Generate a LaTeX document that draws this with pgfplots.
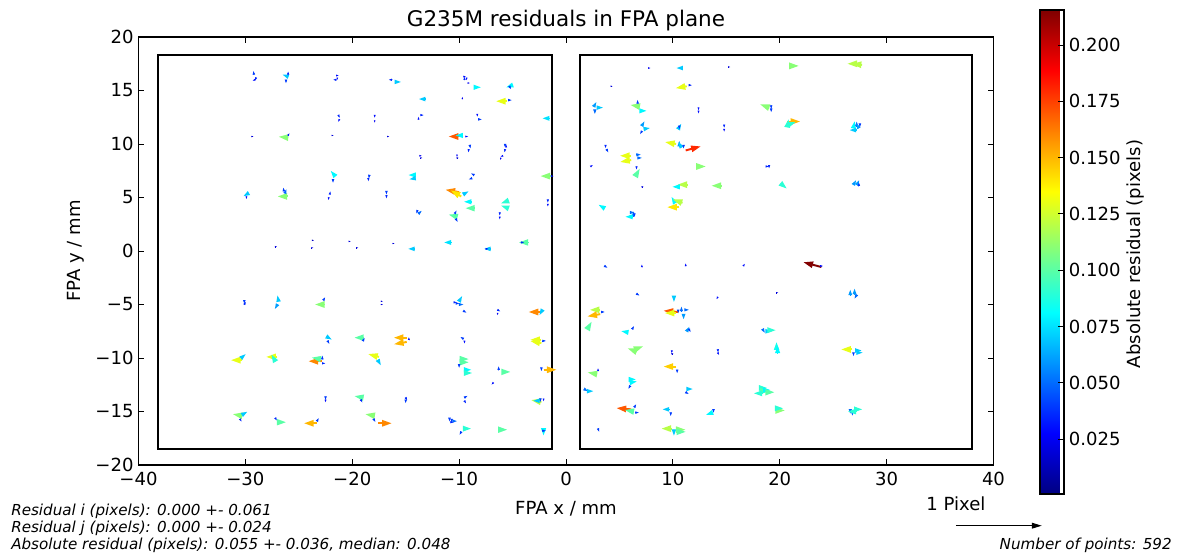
\documentclass[border=0pt]{standalone}
\usepackage{fontspec}
\setmainfont{DejaVu Sans}[ItalicFont={DejaVu Sans Oblique}]
\usepackage{pgfplots}
\pgfplotsset{compat=1.18}
\usepackage{pgfplotstable}
\usetikzlibrary{arrows.meta}

\pgfplotstableread{
x y m a
-29.2 16.5 0.04 100
-29.0 16.2 0.035 250
-29.1 16.0 0.03 200
-26.0 16.3 0.07 160
-26.2 16.0 0.04 270
-26.0 16.5 0.035 90
-21.5 16.4 0.03 0
-21.5 16.0 0.035 180
-21.4 16.2 0.025 270
-16.3 16.0 0.035 180
-16.0 15.8 0.07 0
-9.6 16.3 0.03 0
-9.5 16.0 0.035 90
-9.3 16.2 0.03 270
-9.2 15.7 0.025 0
-8.6 15.3 0.08 0
-5.0 15.5 0.08 200
-5.3 15.4 0.04 300
-13.2 14.2 0.07 180
-9.7 14.2 0.025 90
-5.5 14.0 0.13 180
-5.4 14.1 0.04 0
-21.3 12.7 0.035 300
-21.2 12.3 0.03 240
-17.9 12.7 0.03 270
-17.9 12.2 0.025 270
-13.6 12.7 0.035 0
-13.8 12.3 0.03 90
-8.3 12.8 0.03 270
-8.2 12.3 0.04 0
-1.6 12.4 0.075 180
-29.4 10.7 0.02 0
-26.0 10.6 0.11 175
-26.0 10.8 0.03 60
-21.9 10.8 0.02 0
-16.7 10.7 0.02 0
-9.6 10.7 0.17 180
-9.7 10.8 0.08 180
-9.4 10.7 0.03 0
-9.0 9.9 0.04 280
-9.1 9.5 0.035 260
-5.7 10.0 0.04 270
-5.7 9.5 0.035 260
-5.6 9.7 0.03 90
-13.7 8.9 0.025 0
-13.6 8.7 0.02 0
-10.2 9.0 0.025 270
-10.2 8.7 0.02 0
-5.9 8.9 0.03 200
-6.1 8.7 0.025 250
-21.6 7.0 0.08 130
-21.8 6.7 0.04 270
-18.4 7.1 0.04 260
-18.5 6.8 0.035 280
-14.1 7.1 0.08 180
-14.1 6.8 0.07 190
-8.6 7.1 0.04 150
-8.8 6.8 0.04 200
-1.5 7.0 0.11 180
-1.4 7.0 0.03 0
-29.7 5.4 0.07 210
-29.9 5.1 0.03 270
-26.1 5.1 0.11 180
-26.3 5.4 0.05 70
-26.4 5.6 0.04 100
-22.1 5.3 0.035 80
-22.2 5.0 0.03 260
-16.8 5.6 0.04 270
-16.8 5.2 0.035 270
-10.0 5.5 0.16 170
-9.8 5.1 0.14 150
-9.6 5.3 0.07 30
-8.9 4.6 0.08 180
-8.6 4.0 0.1 180
-5.4 4.7 0.09 200
-5.4 4.0 0.09 160
-1.7 4.8 0.035 270
-1.7 4.4 0.03 270
-13.9 3.8 0.04 250
-13.8 3.5 0.05 40
-10.2 3.2 0.1 165
-10.4 3.5 0.04 60
-10.3 3.0 0.04 300
-6.2 3.6 0.035 270
-6.2 3.2 0.03 270
-27.2 0.4 0.02 0
-23.7 1.0 0.015 0
-23.8 0.3 0.02 0
-20.3 0.9 0.02 0
-19.6 0.3 0.02 0
-16.2 0.7 0.02 0
-14.2 0.2 0.07 180
-10.8 0.8 0.075 180
-7.1 0.2 0.07 180
-7.5 0.2 0.03 0
-3.6 0.8 0.1 180
-4.2 0.8 0.035 0
-30.1 -4.6 0.04 270
-30.1 -5.0 0.035 60
-26.9 -4.7 0.07 100
-27.0 -5.0 0.06 240
-22.6 -5.0 0.11 180
-22.7 -4.6 0.04 60
-17.3 -4.7 0.02 0
-17.3 -5.0 0.02 0
-10.5 -4.8 0.035 0
-10.3 -4.9 0.04 0
-10.0 -4.7 0.07 60
-10.0 -5.0 0.05 0
-9.6 -5.6 0.04 330
-6.4 -5.5 0.035 330
-6.4 -5.8 0.025 270
-2.2 -5.7 0.16 180
-2.2 -5.5 0.07 240
-22.4 -8.0 0.07 330
-22.3 -8.4 0.04 300
-19.0 -8.1 0.1 180
-19.0 -8.4 0.04 60
-14.9 -8.1 0.15 180
-14.9 -8.5 0.15 190
-14.7 -8.3 0.03 90
-9.6 -8.2 0.04 150
-9.5 -8.4 0.03 270
-2.3 -8.3 0.13 180
-2.3 -8.6 0.13 170
-2.2 -8.4 0.04 0
-30.3 -10.2 0.13 180
-30.4 -10.0 0.07 40
-27.0 -9.9 0.13 180
-27.2 -10.3 0.09 120
-22.8 -10.3 0.16 180
-23.0 -10.1 0.1 170
-22.8 -10.1 0.04 90
-22.8 -10.5 0.035 0
-17.5 -9.9 0.13 165
-17.6 -10.2 0.07 300
-9.9 -10.1 0.1 0
-9.9 -10.4 0.1 0
-10.0 -10.6 0.04 270
-9.5 -11.1 0.08 0
-9.5 -11.4 0.09 0
-6.0 -11.3 0.1 0
-6.3 -11.1 0.04 90
-6.8 -12.3 0.03 230
-2.1 -11.1 0.15 0
-2.3 -10.9 0.04 270
-22.5 -13.6 0.04 270
-22.5 -13.9 0.03 270
-19.0 -13.7 0.1 170
-19.2 -13.9 0.035 300
-15.0 -13.7 0.035 300
-15.0 -13.9 0.04 270
-9.5 -13.7 0.04 30
-9.5 -14.0 0.035 300
-2.3 -14.1 0.12 170
-2.4 -13.8 0.04 270
-2.1 -13.8 0.03 270
-2.5 -14.0 0.07 180
-30.3 -15.4 0.11 170
-30.3 -15.3 0.07 30
-30.5 -15.7 0.035 300
-27.2 -15.6 0.035 300
-27.0 -16.0 0.1 0
-23.3 -16.1 0.15 180
-23.3 -15.9 0.04 60
-17.9 -15.4 0.11 170
-18.0 -15.7 0.04 300
-17.6 -16.1 0.16 0
-10.9 -15.6 0.04 270
-10.7 -15.7 0.04 270
-10.6 -15.9 0.05 0
-10.8 -16.0 0.035 0
-9.6 -16.6 0.09 0
-9.8 -16.9 0.04 240
-6.3 -16.7 0.1 0
-2.1 -16.6 0.08 270
-2.2 -16.8 0.04 0
7.7 17.1 0.025 0
10.9 17.1 0.07 180
15.2 17.2 0.02 0
20.9 17.3 0.11 0
27.7 17.4 0.12 175
27.3 17.5 0.12 180
4.2 15.4 0.02 0
11.3 15.4 0.13 190
11.5 15.5 0.035 0
2.6 13.5 0.06 60
2.7 13.2 0.05 270
2.9 13.4 0.07 0
6.9 13.5 0.11 170
6.7 13.8 0.04 90
6.9 13.1 0.08 0
12.4 13.4 0.03 270
12.4 13.1 0.03 270
19.0 13.4 0.11 160
19.2 13.6 0.04 270
19.2 13.3 0.04 270
7.1 11.7 0.06 60
7.3 11.4 0.07 10
7.1 11.2 0.04 240
10.5 11.4 0.07 60
10.6 11.7 0.04 270
14.8 11.8 0.035 270
14.8 11.4 0.03 270
20.7 12.1 0.15 0
20.8 11.8 0.09 20
20.7 11.6 0.09 80
26.9 11.5 0.08 80
27.2 11.7 0.05 90
27.4 11.5 0.06 120
27.5 11.9 0.04 270
27.1 11.3 0.07 180
3.7 9.9 0.035 270
3.8 9.5 0.04 300
10.3 10.0 0.13 170
10.6 9.8 0.06 90
10.8 9.7 0.07 120
11.0 9.9 0.04 270
11.2 9.4 0.18 15
6.1 8.9 0.13 180
6.1 8.5 0.13 190
6.6 9.0 0.05 0
6.7 8.7 0.05 0
6.6 7.9 0.035 270
6.5 7.0 0.1 60
2.3 7.9 0.03 30
12.2 7.9 0.11 0
18.7 7.9 0.035 0
19.0 8.0 0.035 270
7.1 6.0 0.02 0
11.4 6.2 0.12 180
10.6 6.0 0.08 180
14.5 6.1 0.11 180
20.1 6.3 0.09 320
26.9 6.2 0.06 60
27.2 6.2 0.06 60
27.4 6.1 0.04 90
3.6 4.0 0.08 150
6.0 3.6 0.05 0
6.3 3.3 0.05 90
6.2 3.2 0.08 180
6.4 3.5 0.04 270
10.2 4.5 0.08 120
10.9 4.5 0.12 160
10.6 4.1 0.14 180
3.6 -1.4 0.04 330
7.1 -1.5 0.03 90
11.2 -1.4 0.03 90
16.6 -1.4 0.03 60
23.9 -1.5 0.215 165
23.8 -1.4 0.03 0
6.6 -4.0 0.04 330
10.1 -4.2 0.07 270
14.2 -4.3 0.03 240
19.7 -3.9 0.02 0
26.6 -4.1 0.06 90
27.0 -4.0 0.06 90
27.2 -4.1 0.05 240
3.2 -5.5 0.12 180
3.2 -5.9 0.15 190
3.3 -5.7 0.04 0
10.5 -5.7 0.17 175
10.3 -5.8 0.13 180
10.5 -5.5 0.04 270
10.8 -5.6 0.05 90
11.0 -5.9 0.06 270
11.1 -5.5 0.05 0
2.0 -7.3 0.1 60
5.8 -7.6 0.08 170
6.2 -7.3 0.04 60
11.3 -7.5 0.06 60
11.5 -7.3 0.04 300
18.4 -7.3 0.05 300
18.7 -7.5 0.07 0
18.9 -7.4 0.09 0
26.8 -9.2 0.13 180
26.9 -9.5 0.04 270
27.1 -9.3 0.07 0
27.2 -9.5 0.07 0
6.6 -9.4 0.11 160
6.4 -9.2 0.11 20
9.9 -9.3 0.03 270
9.9 -9.6 0.02 0
14.2 -9.2 0.035 280
14.2 -9.5 0.03 300
19.7 -9.2 0.085 90
19.8 -9.5 0.08 90
2.9 -11.5 0.11 170
3.0 -11.2 0.03 90
10.3 -10.8 0.145 180
10.4 -11.1 0.04 270
5.9 -12.0 0.08 0
6.0 -12.3 0.08 10
6.0 -12.6 0.04 240
1.7 -12.9 0.05 330
2.0 -13.1 0.07 0
11.3 -12.9 0.07 0
11.2 -13.2 0.04 330
18.1 -12.8 0.09 0
18.2 -13.1 0.1 0
18.5 -13.0 0.08 0
18.3 -13.3 0.09 180
18.7 -13.2 0.1 0
6.1 -14.8 0.17 175
6.3 -15.0 0.1 170
6.4 -14.6 0.04 60
6.5 -15.1 0.04 0
9.6 -14.8 0.07 180
9.8 -15.1 0.04 270
13.8 -14.8 0.04 270
13.7 -15.1 0.08 200
19.6 -14.9 0.11 0
19.6 -14.7 0.09 0
26.6 -14.8 0.05 270
26.8 -15.0 0.05 270
27.0 -14.8 0.09 0
27.1 -15.0 0.09 180
3.0 -16.6 0.04 290
9.9 -16.6 0.12 180
10.1 -16.7 0.07 270
10.3 -16.7 0.11 0
10.4 -16.9 0.1 0
}\resid

\begin{document}
\begin{tikzpicture}
\useasboundingbox (0,0) rectangle (851.04pt,399.6pt);
\begin{axis}[
  at={(99.72pt,64.8pt)}, anchor=south west,
  scale only axis, width=615.6pt, height=308.16pt,
  xmin=-40, xmax=40, ymin=-20, ymax=20,
  xtick={-40,-30,-20,-10,0,10,20,30,40},
  ytick={-20,-15,-10,-5,0,5,10,15,20},
  xticklabels={−40,−30,−20,−10,0,10,20,30,40},
  yticklabels={−20,−15,−10,−5,0,5,10,15,20},
  tick align=inside, major tick length=4pt,
  tick style={black, line width=0.6pt},
  tick label style={font=\fontsize{13}{15}\selectfont},
  xticklabel style={yshift=-1.5pt},
  axis line style={line width=0.8pt},
  colormap/jet,
  point meta min=0.0006, point meta max=0.2155,
  colorbar right,
  colorbar shift/.style={xshift=33.5pt,yshift=19.44pt},
  colorbar style={
    at={(parent axis.north east)}, anchor=north west,
    scale only axis, width=17.3pt, height=348.5pt,
    ytick={0.025,0.05,0.075,0.1,0.125,0.15,0.175,0.2},
    yticklabels={0.025,0.050,0.075,0.100,0.125,0.150,0.175,0.200},
    ytick pos=right, yticklabel pos=right, tick align=inside, major tick length=4pt,
    yticklabel style={font=\fontsize{13}{15}\selectfont},
    axis line style={line width=0.8pt},
  },
]
\draw[line width=1.3pt] (axis cs:-38.2,-18.5) rectangle (axis cs:-1.3,18.3);
\draw[line width=1.3pt] (axis cs:1.3,-18.5) rectangle (axis cs:38.0,18.3);
\addplot[point meta=\thisrow{m},
  quiver={u=\thisrow{m}*cos(\thisrow{a}), v=\thisrow{m}*sin(\thisrow{a}),
    scale arrows=8.15, colored,
    every arrow/.append style={line width={max(0.3pt,min(1.4pt,\pgfplotspointmetatransformed*0.0029pt))},
      -{Triangle[length=0pt 5,width=0pt 3.2]}}}
] table {\resid};
\end{axis}
\node[anchor=base, font=\fontsize{15.5}{18}\selectfont] at (407.5pt,380.2pt) {G235M residuals in FPA plane};
\node[anchor=base, font=\fontsize{13}{15}\selectfont] at (407.5pt,29.5pt) {FPA x / mm};
\node[anchor=base, rotate=90, font=\fontsize{13}{15}\selectfont] at (57.6pt,218.9pt) {FPA y / mm};
\node[anchor=base, rotate=90, font=\fontsize{13}{15}\selectfont] at (821.5pt,216.7pt) {Absolute residual (pixels)};
\node[anchor=base west, inner sep=0pt, font=\fontsize{10.9}{13}\selectfont\itshape] at (7.9pt,28.8pt) {Residual i (pixels): 0.000 +- 0.061};
\node[anchor=base west, inner sep=0pt, font=\fontsize{10.9}{13}\selectfont\itshape] at (7.9pt,16.2pt) {Residual j (pixels): 0.000 +- 0.024};
\node[anchor=base west, inner sep=0pt, font=\fontsize{10.9}{13}\selectfont\itshape] at (7.9pt,3.8pt) {Absolute residual (pixels): 0.055 +- 0.036, median: 0.048};
\node[anchor=base east, inner sep=0pt, font=\fontsize{10.9}{13}\selectfont\itshape] at (843.8pt,3.8pt) {Number of points: 592};
\node[anchor=base, font=\fontsize{13}{15}\selectfont] at (688.3pt,32.4pt) {1 Pixel};
\draw[line width=1.1pt, -{Triangle[length=7.2pt,width=4pt]}] (688.3pt,21.1pt) -- (750.2pt,21.1pt);
\end{tikzpicture}
\end{document}
